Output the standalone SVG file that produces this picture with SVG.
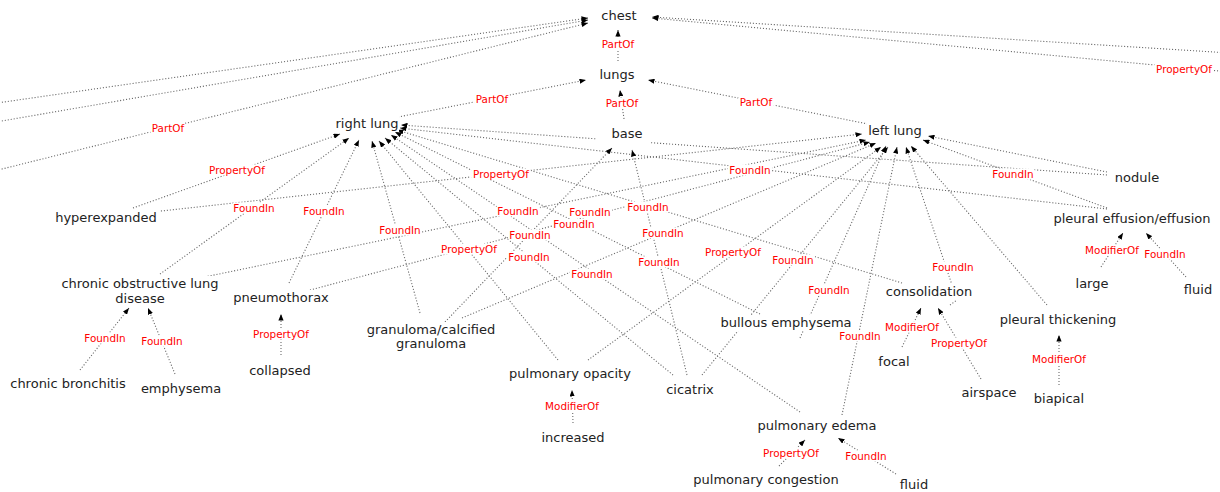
<svg xmlns="http://www.w3.org/2000/svg" width="1220" height="492" viewBox="0 0 1220 492">
<style>
.e{stroke:#6a6a6a;stroke-width:1.1;stroke-dasharray:1.1 1.9;fill:none;marker-end:url(#ah)}
.lb{fill:#fff}
.el{font-family:"DejaVu Sans",sans-serif;font-size:10.4px;fill:#ff0000;text-anchor:middle}
.nl{font-family:"DejaVu Sans",sans-serif;font-size:13px;fill:#222;text-anchor:middle}
.nb{fill:#fff}
</style>
<defs>
<marker id="ah" viewBox="0 0 10 8" refX="10" refY="4" markerWidth="6.5" markerHeight="5.2" markerUnits="userSpaceOnUse" orient="auto">
<path d="M0,0 L10,4 L0,8 z" fill="#000"/>
</marker>
</defs>
<rect width="1220" height="492" fill="#fff"/>
<g id="connectors">
<line class="e" x1="-10" y1="104" x2="588" y2="18"/>
<line class="e" x1="-10" y1="123" x2="588" y2="20"/>
<line class="e" x1="-10" y1="172" x2="588" y2="23"/>
<line class="e" x1="1230" y1="53" x2="652" y2="17"/>
<line class="e" x1="1230" y1="72" x2="652" y2="18"/>
<line class="e" x1="618" y1="61" x2="618" y2="30"/>
<line class="e" x1="624" y1="119" x2="620" y2="90"/>
<line class="e" x1="398" y1="117" x2="586" y2="80"/>
<line class="e" x1="868" y1="124" x2="648" y2="80"/>
<line class="e" x1="133" y1="208" x2="340" y2="134"/>
<line class="e" x1="160" y1="274" x2="349" y2="138"/>
<line class="e" x1="289" y1="283" x2="359" y2="140"/>
<line class="e" x1="420" y1="313" x2="372" y2="141"/>
<line class="e" x1="558" y1="360" x2="379" y2="141"/>
<line class="e" x1="673" y1="375" x2="385" y2="138"/>
<line class="e" x1="800" y1="412" x2="391" y2="135"/>
<line class="e" x1="760" y1="314" x2="395" y2="132"/>
<line class="e" x1="902" y1="283" x2="397" y2="130"/>
<line class="e" x1="1107" y1="175" x2="401" y2="125"/>
<line class="e" x1="1107" y1="209" x2="400" y2="128"/>
<line class="e" x1="445" y1="322" x2="612" y2="148"/>
<line class="e" x1="687" y1="375" x2="632" y2="150"/>
<line class="e" x1="143" y1="213" x2="862" y2="134"/>
<line class="e" x1="190" y1="280" x2="866" y2="140"/>
<line class="e" x1="310" y1="290" x2="870" y2="142"/>
<line class="e" x1="462" y1="318" x2="876" y2="143"/>
<line class="e" x1="588" y1="360" x2="881" y2="147"/>
<line class="e" x1="702" y1="375" x2="888" y2="147"/>
<line class="e" x1="842" y1="415" x2="897" y2="147"/>
<line class="e" x1="800" y1="338" x2="886" y2="146"/>
<path class="e" d="M950,305 L957,300 L906,147"/>
<line class="e" x1="1047" y1="305" x2="911" y2="146"/>
<line class="e" x1="1107" y1="172" x2="928" y2="136"/>
<line class="e" x1="1107" y1="208" x2="923" y2="140"/>
<line class="e" x1="80" y1="370" x2="129" y2="308"/>
<line class="e" x1="175" y1="374" x2="148" y2="308"/>
<line class="e" x1="281" y1="355" x2="281" y2="314"/>
<line class="e" x1="573" y1="423" x2="572" y2="390"/>
<line class="e" x1="779" y1="466" x2="805" y2="440"/>
<line class="e" x1="896" y1="474" x2="838" y2="438"/>
<line class="e" x1="902" y1="347" x2="921" y2="308"/>
<line class="e" x1="981" y1="379" x2="938" y2="308"/>
<line class="e" x1="1059" y1="385" x2="1059" y2="335"/>
<line class="e" x1="1101" y1="267" x2="1123" y2="233"/>
<line class="e" x1="1186" y1="277" x2="1146" y2="233"/>
</g>
<g id="edge-labels">
<rect class="lb" x="150" y="122.5" width="36" height="11" rx="3"/><text class="el" x="168" y="131.8">PartOf</text>
<rect class="lb" x="1154" y="63.5" width="60" height="11" rx="3"/><text class="el" x="1184" y="72.8">PropertyOf</text>
<rect class="lb" x="600" y="38.5" width="36" height="11" rx="3"/><text class="el" x="618" y="47.8">PartOf</text>
<rect class="lb" x="604" y="97.5" width="36" height="11" rx="3"/><text class="el" x="622" y="106.8">PartOf</text>
<rect class="lb" x="474" y="93.5" width="36" height="11" rx="3"/><text class="el" x="492" y="102.8">PartOf</text>
<rect class="lb" x="738" y="96.5" width="36" height="11" rx="3"/><text class="el" x="756" y="105.8">PartOf</text>
<rect class="lb" x="207" y="164.5" width="60" height="11" rx="3"/><text class="el" x="237" y="173.8">PropertyOf</text>
<rect class="lb" x="232" y="202.5" width="44" height="11" rx="3"/><text class="el" x="254" y="211.8">FoundIn</text>
<rect class="lb" x="302" y="205.5" width="44" height="11" rx="3"/><text class="el" x="324" y="214.8">FoundIn</text>
<rect class="lb" x="378" y="224.5" width="44" height="11" rx="3"/><text class="el" x="400" y="233.8">FoundIn</text>
<rect class="lb" x="471" y="168.5" width="60" height="11" rx="3"/><text class="el" x="501" y="177.8">PropertyOf</text>
<rect class="lb" x="496" y="205.5" width="44" height="11" rx="3"/><text class="el" x="518" y="214.8">FoundIn</text>
<rect class="lb" x="568" y="207" width="44" height="11" rx="3"/><text class="el" x="590" y="216.3">FoundIn</text>
<rect class="lb" x="552" y="219" width="44" height="11" rx="3"/><text class="el" x="574" y="228.3">FoundIn</text>
<rect class="lb" x="508" y="229.5" width="44" height="11" rx="3"/><text class="el" x="530" y="238.8">FoundIn</text>
<rect class="lb" x="626" y="201.5" width="44" height="11" rx="3"/><text class="el" x="648" y="210.8">FoundIn</text>
<rect class="lb" x="641" y="227.5" width="44" height="11" rx="3"/><text class="el" x="663" y="236.8">FoundIn</text>
<rect class="lb" x="439" y="243.5" width="60" height="11" rx="3"/><text class="el" x="469" y="252.8">PropertyOf</text>
<rect class="lb" x="507" y="251.5" width="44" height="11" rx="3"/><text class="el" x="529" y="260.8">FoundIn</text>
<rect class="lb" x="703" y="246.5" width="60" height="11" rx="3"/><text class="el" x="733" y="255.8">PropertyOf</text>
<rect class="lb" x="637" y="256.5" width="44" height="11" rx="3"/><text class="el" x="659" y="265.8">FoundIn</text>
<rect class="lb" x="771" y="254.5" width="44" height="11" rx="3"/><text class="el" x="793" y="263.8">FoundIn</text>
<rect class="lb" x="570" y="268.5" width="44" height="11" rx="3"/><text class="el" x="592" y="277.8">FoundIn</text>
<rect class="lb" x="728" y="164.5" width="44" height="11" rx="3"/><text class="el" x="750" y="173.8">FoundIn</text>
<rect class="lb" x="991" y="168.5" width="44" height="11" rx="3"/><text class="el" x="1013" y="177.8">FoundIn</text>
<rect class="lb" x="807" y="284.5" width="44" height="11" rx="3"/><text class="el" x="829" y="293.8">FoundIn</text>
<rect class="lb" x="931" y="261.5" width="44" height="11" rx="3"/><text class="el" x="953" y="270.8">FoundIn</text>
<rect class="lb" x="838" y="330.5" width="44" height="11" rx="3"/><text class="el" x="860" y="339.8">FoundIn</text>
<rect class="lb" x="884" y="321.5" width="56" height="11" rx="3"/><text class="el" x="912" y="330.8">ModifierOf</text>
<rect class="lb" x="929" y="337.5" width="60" height="11" rx="3"/><text class="el" x="959" y="346.8">PropertyOf</text>
<rect class="lb" x="1031" y="353.5" width="56" height="11" rx="3"/><text class="el" x="1059" y="362.8">ModifierOf</text>
<rect class="lb" x="1084" y="244.5" width="56" height="11" rx="3"/><text class="el" x="1112" y="253.8">ModifierOf</text>
<rect class="lb" x="1143" y="248.5" width="44" height="11" rx="3"/><text class="el" x="1165" y="257.8">FoundIn</text>
<rect class="lb" x="544" y="400.5" width="56" height="11" rx="3"/><text class="el" x="572" y="409.8">ModifierOf</text>
<rect class="lb" x="761" y="447.5" width="60" height="11" rx="3"/><text class="el" x="791" y="456.8">PropertyOf</text>
<rect class="lb" x="844" y="450.5" width="44" height="11" rx="3"/><text class="el" x="866" y="459.8">FoundIn</text>
<rect class="lb" x="83" y="332.5" width="44" height="11" rx="3"/><text class="el" x="105" y="341.8">FoundIn</text>
<rect class="lb" x="140" y="335.5" width="44" height="11" rx="3"/><text class="el" x="162" y="344.8">FoundIn</text>
<rect class="lb" x="251" y="328.5" width="60" height="11" rx="3"/><text class="el" x="281" y="337.8">PropertyOf</text>
</g>
<g id="chest"><rect class="nb" x="600" y="8" width="38" height="16"/><text class="nl" x="619" y="20">chest</text></g>
<g id="lungs"><rect class="nb" x="598" y="67" width="38" height="16"/><text class="nl" x="617" y="79">lungs</text></g>
<g id="base"><rect class="nb" x="597" y="124" width="54" height="19"/><text class="nl" x="627" y="138">base</text></g>
<g id="right-lung"><rect class="nb" x="335" y="116" width="64" height="16"/><text class="nl" x="367" y="128">right lung</text></g>
<g id="left-lung"><rect class="nb" x="867" y="123" width="56" height="16"/><text class="nl" x="895" y="135">left lung</text></g>
<g id="nodule"><rect class="nb" x="1114" y="170" width="45" height="16"/><text class="nl" x="1137" y="182">nodule</text></g>
<g id="pleural-effusion"><rect class="nb" x="1052" y="211" width="160" height="16"/><text class="nl" x="1132" y="223">pleural effusion/effusion</text></g>
<g id="large"><rect class="nb" x="1074" y="276" width="36" height="16"/><text class="nl" x="1092" y="288">large</text></g>
<g id="fluid-1"><rect class="nb" x="1182" y="282" width="32" height="16"/><text class="nl" x="1198" y="294">fluid</text></g>
<g id="hyperexpanded"><rect class="nb" x="54" y="210" width="105" height="16"/><text class="nl" x="106" y="222">hyperexpanded</text></g>
<g id="copd"><rect class="nb" x="60" y="276" width="160" height="31"/><text class="nl" x="140" y="288">chronic obstructive lung</text><text class="nl" x="140" y="303">disease</text></g>
<g id="pneumothorax"><rect class="nb" x="232" y="290" width="98" height="16"/><text class="nl" x="281" y="302">pneumothorax</text></g>
<g id="granuloma"><rect class="nb" x="366" y="322" width="130" height="30"/><text class="nl" x="431" y="334">granuloma/calcified</text><text class="nl" x="431" y="348">granuloma</text></g>
<g id="bullous-emphysema"><rect class="nb" x="719" y="315" width="134" height="16"/><text class="nl" x="786" y="327">bullous emphysema</text></g>
<g id="consolidation"><rect class="nb" x="885" y="284" width="89" height="16"/><text class="nl" x="929" y="296">consolidation</text></g>
<g id="pleural-thickening"><rect class="nb" x="999" y="312" width="119" height="16"/><text class="nl" x="1058" y="324">pleural thickening</text></g>
<g id="chronic-bronchitis"><rect class="nb" x="9" y="376" width="119" height="16"/><text class="nl" x="68" y="388">chronic bronchitis</text></g>
<g id="emphysema"><rect class="nb" x="140" y="381" width="82" height="16"/><text class="nl" x="181" y="393">emphysema</text></g>
<g id="collapsed"><rect class="nb" x="248" y="363" width="64" height="16"/><text class="nl" x="280" y="375">collapsed</text></g>
<g id="pulmonary-opacity"><rect class="nb" x="508" y="366" width="124" height="16"/><text class="nl" x="570" y="378">pulmonary opacity</text></g>
<g id="cicatrix"><rect class="nb" x="666" y="382" width="49" height="16"/><text class="nl" x="690" y="394">cicatrix</text></g>
<g id="increased"><rect class="nb" x="541" y="430" width="65" height="16"/><text class="nl" x="573" y="442">increased</text></g>
<g id="focal"><rect class="nb" x="877" y="354" width="34" height="16"/><text class="nl" x="894" y="366">focal</text></g>
<g id="airspace"><rect class="nb" x="961" y="385" width="57" height="16"/><text class="nl" x="989" y="397">airspace</text></g>
<g id="biapical"><rect class="nb" x="1033" y="391" width="52" height="16"/><text class="nl" x="1059" y="403">biapical</text></g>
<g id="pulmonary-edema"><rect class="nb" x="757" y="418" width="121" height="16"/><text class="nl" x="817" y="430">pulmonary edema</text></g>
<g id="pulmonary-congestion"><rect class="nb" x="692" y="472" width="148" height="16"/><text class="nl" x="766" y="484">pulmonary congestion</text></g>
<g id="fluid-2"><rect class="nb" x="900" y="477" width="29" height="16"/><text class="nl" x="914" y="489">fluid</text></g>
</svg>
